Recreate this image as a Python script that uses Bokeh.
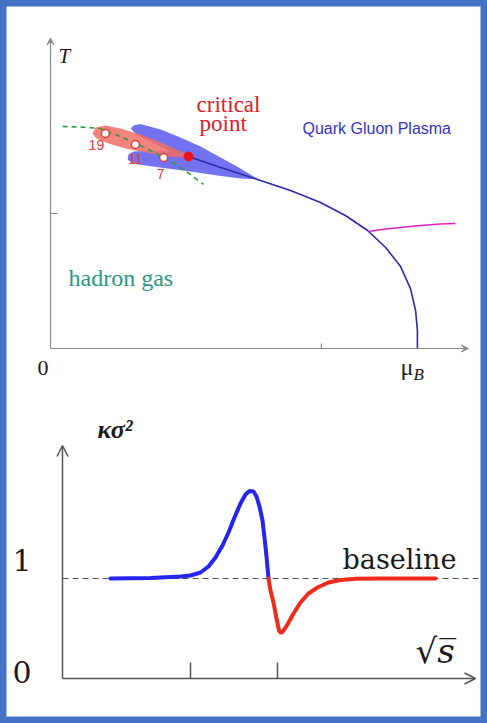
from bokeh.plotting import figure
from bokeh.models import Range1d, Label, Arrow, VeeHead, OpenHead
from bokeh.core.properties import value
from bokeh.embed import file_html
from bokeh.resources import INLINE

# ---------------- top panel: QCD phase diagram (mu_B, T in MeV) ----------------
freeze_mu = [40, 100, 167, 233, 283, 333, 377, 417, 457, 510]
freeze_T = [164.4, 164.1, 163.0, 157.0, 151.9, 146.7, 141.5, 136.3, 130.4, 121.5]

trans_mu = [460, 567, 690, 800, 900, 983, 1057, 1117, 1167, 1200, 1217, 1223, 1223]
trans_T = [142.2, 134.1, 125.2, 117.0, 108.1, 98.5, 87.4, 74.8, 60.7, 44.4, 28.1, 13.3, 0.0]

csc_mu = [1060, 1117, 1167, 1233, 1300, 1350]
csc_T = [86.7, 88.5, 89.6, 91.1, 92.2, 92.6]

blue_mu = [277, 300, 367, 433, 500, 567, 633, 693, 633, 557, 467, 390, 317, 273,
           257, 260, 277, 333, 400, 360, 317, 283, 267]
blue_T = [165.2, 166.3, 162.2, 156.3, 149.6, 141.5, 133.3, 125.2, 125.9, 128.1, 131.1,
          133.3, 135.6, 137.0, 140.0, 143.7, 145.9, 146.7, 145.9, 150.4, 154.8, 159.3, 163.0]

red_mu = [150, 183, 233, 300, 367, 427, 460, 450, 383, 317, 250, 193, 153, 140]
red_T = [163.7, 165.2, 163.0, 158.5, 152.6, 146.7, 143.7, 141.5, 142.2, 145.2, 148.1,
         151.9, 155.6, 159.3]

energies = ["19", "11", "7"]
energy_mu = [183, 283, 377]
energy_T = [159.3, 151.1, 141.5]
energy_lab_mu = [153, 283, 367]
energy_lab_T = [150.4, 140.7, 129.6]

cp_mu = [460]
cp_T = [142.2]

T_ticks = [100]
mu_ticks = [903]
mu_axis_end = 1393
T_axis_end = 230

# ---------------- bottom panel: kappa*sigma^2 vs sqrt(s) ----------------
up_rs = [4.8, 8.8, 11.8, 12.8, 13.8, 14.6, 15.3, 16.0, 16.6, 17.2, 17.8, 18.3, 18.7,
         19.1, 19.4, 19.7, 20.0, 20.2, 20.4, 20.6]
up_k = [1.00, 1.005, 1.02, 1.03, 1.06, 1.12, 1.21, 1.33, 1.46, 1.61, 1.75, 1.84, 1.875,
        1.87, 1.82, 1.72, 1.58, 1.41, 1.22, 1.00]

down_rs = [20.6, 20.8, 21.1, 21.4, 21.65, 21.85, 22.1, 22.5, 23.1, 23.8, 24.6, 25.5,
           26.6, 27.8, 29.3, 31.8, 37.3]
down_k = [1.00, 0.88, 0.76, 0.60, 0.48, 0.455, 0.48, 0.54, 0.65, 0.76, 0.85, 0.91,
          0.96, 0.985, 0.997, 1.00, 1.00]

baseline_rs = [0, 41.8]
baseline_k = [1, 1]
rs_ticks = [12.8, 21.5]
rs_axis_end = 41.3
k_axis_end = 2.33

# ---------------- layout (pixels) ----------------
W, H = 487, 723
top_ox, top_oy = 50, 375          # origin of phase diagram, px from left / bottom
top_sx, top_sy = 0.3, 1.35        # px per MeV
bot_ox, bot_oy = 62, 45           # origin of lower chart
bot_sx, bot_sy = 10.0, 100.0      # px per unit

p = figure(width=W, height=H, output_backend="svg", toolbar_location=None, tools="",
           x_range=Range1d(-top_ox / top_sx, (W - top_ox) / top_sx),
           y_range=Range1d(-top_oy / top_sy, (H - top_oy) / top_sy),
           x_axis_location=None, y_axis_location=None, min_border=0)
p.extra_x_ranges = {"rs": Range1d(-bot_ox / bot_sx, (W - bot_ox) / bot_sx)}
p.extra_y_ranges = {"k": Range1d(-bot_oy / bot_sy, (H - bot_oy) / bot_sy)}
p.xgrid.visible = False
p.ygrid.visible = False
p.background_fill_color = "white"
p.border_fill_color = "white"
p.outline_line_color = "#4472C4"
p.outline_line_width = 12

SERIF = "Liberation Serif"

# ---- top panel axes ----
top_axis = "#8a8a8a"
p.add_layout(Arrow(end=VeeHead(size=7, fill_color=top_axis, line_color=top_axis),
                   x_start=0, y_start=0, x_end=0, y_end=T_axis_end,
                   line_color=top_axis, line_width=1.2))
p.add_layout(Arrow(end=VeeHead(size=7, fill_color=top_axis, line_color=top_axis),
                   x_start=0, y_start=0, x_end=mu_axis_end, y_end=0,
                   line_color=top_axis, line_width=1.2))
p.segment(x0=[0] * len(T_ticks), y0=T_ticks, x1=[7 / top_sx] * len(T_ticks), y1=T_ticks,
          line_color=top_axis, line_width=1.2)
p.segment(x0=mu_ticks, y0=[0] * len(mu_ticks), x1=mu_ticks, y1=[5 / top_sy] * len(mu_ticks),
          line_color=top_axis, line_width=1.2)

# ---- top panel shapes ----
p.patch(blue_mu, blue_T, fill_color="#6c6cf0", fill_alpha=0.95, line_color=None)
p.patch(red_mu, red_T, fill_color="#f26e66", fill_alpha=0.85, line_color=None)
p.line(freeze_mu, freeze_T, line_color="#2f9a3c", line_width=1.6, line_dash="5 4")
p.line(trans_mu, trans_T, line_color="#2a2ab0", line_width=1.6)
p.line(csc_mu, csc_T, line_color="#e020c4", line_width=1.6)
p.scatter(energy_mu, energy_T, size=8, fill_color="white", line_color="#e03a3a", line_width=1.5)
p.scatter(cp_mu, cp_T, size=9, fill_color="#e8141e", line_color="#e8141e")
p.text(energy_lab_mu, energy_lab_T, text=energies, text_color="#e03a3a",
       text_font=value("Liberation Sans"), text_font_size="14px",
       text_align="center", text_baseline="middle")

def lab(x, y, t, size, color="#1a1a1a", font=SERIF, style="normal", xr="default", yr="default",
        align="left"):
    p.add_layout(Label(x=x, y=y, text=t, text_font=font, text_font_size=size,
                       text_color=color, text_font_style=style, text_baseline="middle",
                       text_align=align, x_range_name=xr, y_range_name=yr))

lab(27, 216.6, "T", "21px", style="italic")
lab(487, 180.7, "critical", "23px", color="#d9202a")
lab(497, 166.7, "point", "23px", color="#d9202a")
lab(840, 163.3, "Quark Gluon Plasma", "16px", color="#3434c8", font="Liberation Sans")
lab(60, 52.1, "hadron gas", "24px", color="#2a9886")
lab(-43, -14.4, "0", "22px")
lab(1167, -13.8, "μ", "24px")
lab(1210, -18.9, "B", "17px", style="italic")

# ---- bottom panel ----
bot_axis = "#555555"
p.segment(x0=[baseline_rs[0]], y0=[baseline_k[0]], x1=[baseline_rs[1]], y1=[baseline_k[1]],
          line_color=bot_axis, line_width=1.2, line_dash="6 4",
          x_range_name="rs", y_range_name="k")
p.add_layout(Arrow(end=OpenHead(size=11, line_color=bot_axis, line_width=1.5),
                   x_start=0, y_start=0, x_end=0, y_end=k_axis_end,
                   line_color=bot_axis, line_width=1.5, x_range_name="rs", y_range_name="k"))
p.add_layout(Arrow(end=OpenHead(size=11, line_color=bot_axis, line_width=1.5),
                   x_start=0, y_start=0, x_end=rs_axis_end, y_end=0,
                   line_color=bot_axis, line_width=1.5, x_range_name="rs", y_range_name="k"))
p.segment(x0=rs_ticks, y0=[0] * len(rs_ticks), x1=rs_ticks, y1=[16 / bot_sy] * len(rs_ticks),
          line_color=bot_axis, line_width=1.5, x_range_name="rs", y_range_name="k")

p.line(up_rs, up_k, line_color="#2525ee", line_width=4, line_cap="round",
       x_range_name="rs", y_range_name="k")
p.line(down_rs, down_k, line_color="#ee2a1c", line_width=4, line_cap="round",
       x_range_name="rs", y_range_name="k")

DV = "DejaVu Serif"
lab(3.5, 2.494, "κσ²", "26px", style="bold italic", xr="rs", yr="k")
lab(-5.0, 1.19, "1", "30px", font=DV, xr="rs", yr="k")
lab(-5.0, 0.065, "0", "30px", font=DV, xr="rs", yr="k")
lab(28.0, 1.193, "baseline", "27px", font=DV, xr="rs", yr="k")
lab(35.3, 0.28, "√s\u0305", "34px", font=DV, style="italic", xr="rs", yr="k")

open("out.html", "w").write(file_html(p, INLINE))
